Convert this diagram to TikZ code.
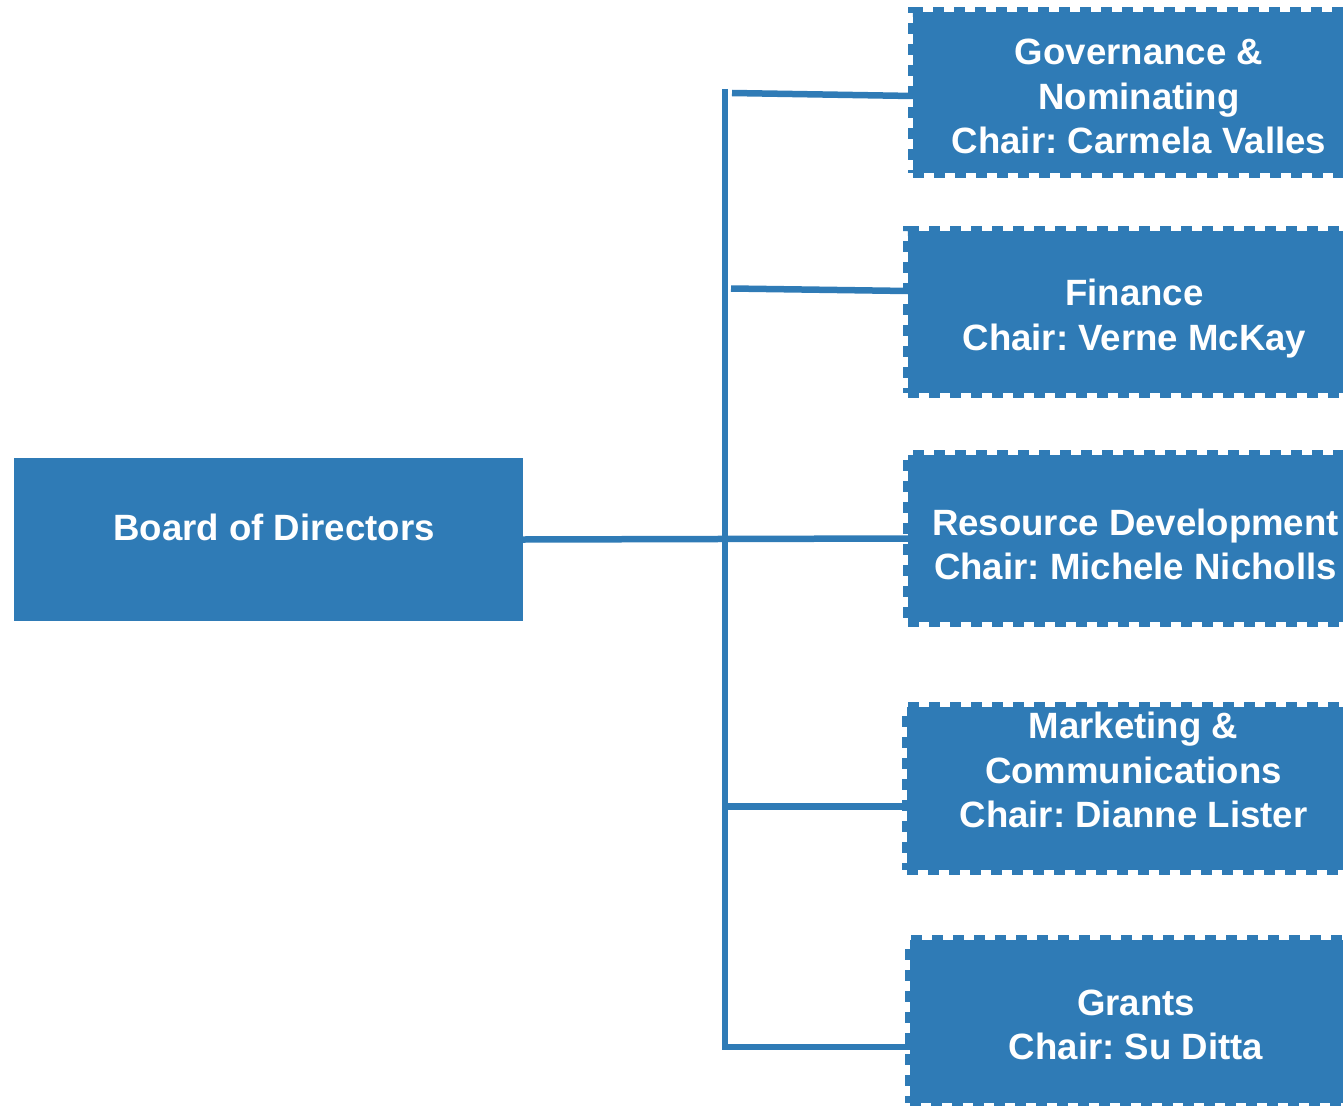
\documentclass[tikz,border=0pt]{standalone}
\usepackage{fontspec}
\setmainfont{Liberation Sans}
\frenchspacing
\definecolor{boxblue}{RGB}{47,123,182}
\begin{document}
\begin{tikzpicture}[x=1pt,y=-1pt,
  solidbox/.style={fill=boxblue, inner sep=0pt, outer sep=0pt, anchor=north west},
  cbox/.style={fill=boxblue, draw=boxblue, line width=10pt, dash pattern=on 11pt off 10pt, inner sep=0pt, outer sep=0pt, anchor=north west, minimum width=460pt},
  lbl/.style={text=white, font=\bfseries\fontsize{36.6pt}{44.5pt}\selectfont, align=center, inner sep=0pt, anchor=north},
  conn/.style={draw=boxblue, line width=6.5pt}]
\useasboundingbox (0,0) rectangle (1343,1105);

% boxes
\node[solidbox, minimum width=509pt, minimum height=163pt] (board) at (14,458) {};
\node[cbox, minimum height=161pt] (gov) at (913,12) {};
\node[cbox, minimum height=162pt] (fin) at (908,231) {};
\node[cbox, minimum height=167pt] (res) at (908,455) {};
\node[cbox, minimum height=163pt] (mkt) at (907,707) {};
\node[cbox, minimum height=163pt] (gra) at (910,940) {};

% labels
\node[lbl] (boardt) at (274,513.5) {Board of Directors};
\node[lbl] (govt) at (1139,39) {Governance \&\\Nominating\\Chair: Carmela Valles};
\node[lbl] (fint) at (1134.5,279) {Finance\\Chair: Verne McKay};
\node[lbl] (rest) at (1135.5,508.5) {Resource Development\\Chair: Michele Nicholls};
\node[lbl] (mktt) at (1133.5,712) {Marketing \&\\Communications\\Chair: Dianne Lister};
\node[lbl] (grat) at (1136,989.5) {Grants\\Chair: Su Ditta};

% connectors
\coordinate (vtop) at (725,89);
\coordinate (vbot) at (725,1047);
\coordinate (g0) at (732,93);
\coordinate (f0) at (731,288.5);
\coordinate (m0) at (725,806.5);
\draw[conn] (vtop) -- (vbot) -- (vbot -| gra.west);
\draw[conn] (g0) -- ([yshift=-3.5pt]gov.west);
\draw[conn] (f0) -- ([yshift=21pt]fin.west);
\draw[conn] (board.east) -- (res.west);
\draw[conn] (m0) -- (m0 -| mkt.west);
\end{tikzpicture}
\end{document}
